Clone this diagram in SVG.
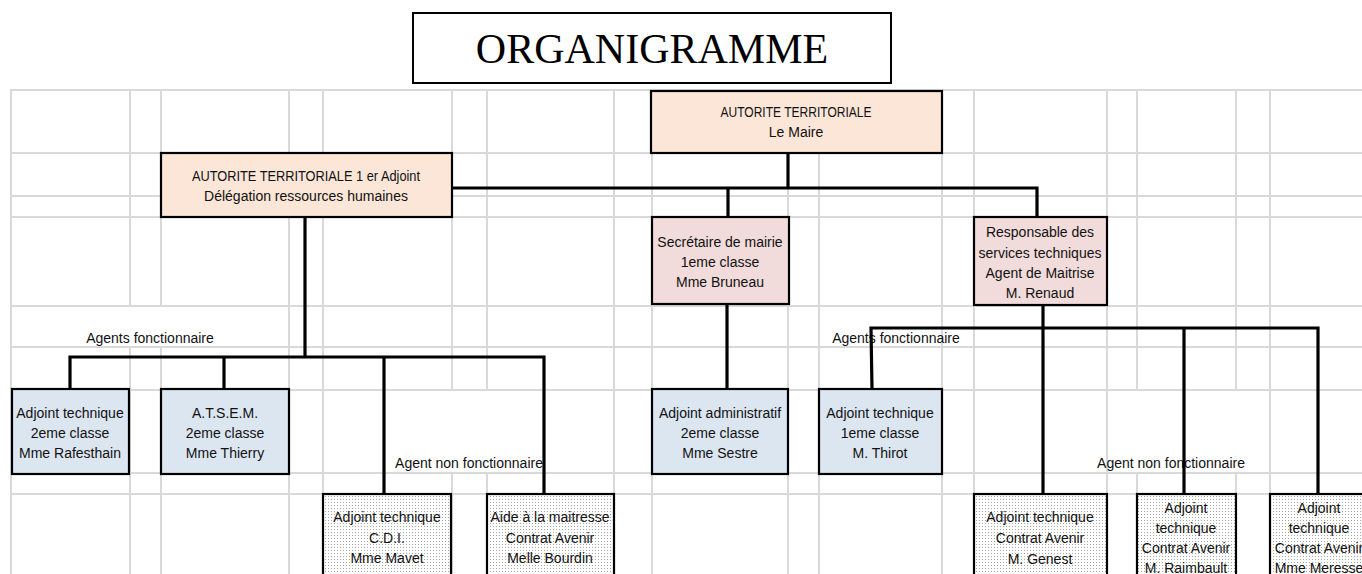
<svg xmlns="http://www.w3.org/2000/svg" width="1362" height="574" viewBox="0 0 1362 574">
<defs>
<pattern id="dots" x="0" y="0" width="3" height="3" patternUnits="userSpaceOnUse">
<rect width="3" height="3" fill="#ffffff"/>
<rect x="1" y="1" width="1" height="1" fill="#a6a6a6"/>
</pattern>
</defs>
<style>
.grid line{stroke:#d9d9d9;stroke-width:2}
.box{stroke:#000;stroke-width:2.2}
.peach{fill:#fce6d8}
.pink{fill:#f2dcdb}
.blue{fill:#dce6f1}
.dot{fill:url(#dots)}
.t{font-family:"Liberation Sans",Arial,sans-serif;font-size:14px;fill:#111;text-anchor:middle}
.conn path{fill:none;stroke:#000;stroke-width:3.2}
.mask{fill:#fff}
</style>
<rect width="1362" height="574" fill="#fff"/>
<g class="grid" id="grid">
<line x1="11" y1="90" x2="1362" y2="90"/>
<line x1="11" y1="153" x2="1362" y2="153"/>
<line x1="11" y1="196" x2="1362" y2="196"/>
<line x1="11" y1="217" x2="1362" y2="217"/>
<line x1="11" y1="306" x2="1362" y2="306"/>
<line x1="11" y1="347" x2="1362" y2="347"/>
<line x1="11" y1="390" x2="1362" y2="390"/>
<line x1="11" y1="473" x2="1362" y2="473"/>
<line x1="11" y1="494" x2="1362" y2="494"/>
<line x1="11" y1="89" x2="11" y2="574"/>
<line x1="130" y1="89" x2="130" y2="574"/>
<line x1="161" y1="89" x2="161" y2="574"/>
<line x1="289" y1="89" x2="289" y2="574"/>
<line x1="323" y1="89" x2="323" y2="574"/>
<line x1="452" y1="89" x2="452" y2="574"/>
<line x1="487" y1="89" x2="487" y2="574"/>
<line x1="614" y1="89" x2="614" y2="574"/>
<line x1="652" y1="89" x2="652" y2="574"/>
<line x1="788" y1="89" x2="788" y2="574"/>
<line x1="819" y1="89" x2="819" y2="574"/>
<line x1="942" y1="89" x2="942" y2="574"/>
<line x1="974" y1="89" x2="974" y2="574"/>
<line x1="1107" y1="89" x2="1107" y2="574"/>
<line x1="1137" y1="89" x2="1137" y2="574"/>
<line x1="1236" y1="89" x2="1236" y2="574"/>
<line x1="1270" y1="89" x2="1270" y2="574"/>
</g>
<g id="labels">
<rect class="mask" x="12" y="307" width="276" height="39"/>
<rect class="mask" x="820" y="307" width="121" height="39"/>
<rect class="mask" x="943" y="307" width="30" height="39"/>
<rect class="mask" x="324" y="391" width="289" height="81"/>
<rect class="mask" x="1108" y="391" width="161" height="81"/>
<text class="t" x="150" y="343">Agents fonctionnaire</text>
<text class="t" x="896" y="343">Agents fonctionnaire</text>
<text class="t" x="469" y="468">Agent non fonctionnaire</text>
<text class="t" x="1171" y="468">Agent non fonctionnaire</text>
</g>
<g id="title">
<rect x="413" y="13" width="478" height="70" fill="#fff" stroke="#000" stroke-width="2"/>
<text x="652" y="63" font-family="'Liberation Serif','Times New Roman',serif" font-size="42" text-anchor="middle" fill="#000">ORGANIGRAMME</text>
</g>
<g class="conn" id="connectors">
<path d="M788 153V188"/>
<path d="M452 188H1037V217"/>
<path d="M728 188V217"/>
<path d="M305 217V357"/>
<path d="M70 389V357H544V494"/>
<path d="M224 357V389"/>
<path d="M384 357V494"/>
<path d="M727 304V389"/>
<path d="M1043 305V328"/>
<path d="M872 389L871 328H1318V494"/>
<path d="M1043 328V494"/>
<path d="M1184 328V494"/>
</g>
<g id="maire">
<rect class="box peach" x="651" y="91" width="291" height="62"/>
<text class="t" x="796" y="117" textLength="151" lengthAdjust="spacingAndGlyphs">AUTORITE  TERRITORIALE</text>
<text class="t" x="796" y="137">Le Maire</text>
</g>
<g id="adjoint1">
<rect class="box peach" x="161" y="153" width="291" height="64"/>
<text class="t" x="306" y="181" textLength="228" lengthAdjust="spacingAndGlyphs">AUTORITE  TERRITORIALE  1 er Adjoint</text>
<text class="t" x="306" y="201">Délégation ressources humaines</text>
</g>
<g id="secretaire">
<rect class="box pink" x="652" y="217" width="137" height="87"/>
<text class="t" x="720" y="247">Secrétaire de mairie</text>
<text class="t" x="720" y="267">1eme classe</text>
<text class="t" x="720" y="287">Mme Bruneau</text>
</g>
<g id="responsable">
<rect class="box pink" x="974" y="217" width="133" height="88"/>
<text class="t" x="1040" y="237">Responsable des</text>
<text class="t" x="1040" y="258">services techniques</text>
<text class="t" x="1040" y="278">Agent de Maitrise</text>
<text class="t" x="1040" y="298">M. Renaud</text>
</g>
<g id="rafesthain">
<rect class="box blue" x="12" y="389" width="117" height="85"/>
<text class="t" x="70" y="418">Adjoint technique</text>
<text class="t" x="70" y="438">2eme classe</text>
<text class="t" x="70" y="458">Mme Rafesthain</text>
</g>
<g id="thierry">
<rect class="box blue" x="161" y="389" width="128" height="85"/>
<text class="t" x="225" y="418">A.T.S.E.M.</text>
<text class="t" x="225" y="438">2eme classe</text>
<text class="t" x="225" y="458">Mme Thierry</text>
</g>
<g id="sestre">
<rect class="box blue" x="652" y="389" width="136" height="85"/>
<text class="t" x="720" y="418">Adjoint administratif</text>
<text class="t" x="720" y="438">2eme classe</text>
<text class="t" x="720" y="458">Mme Sestre</text>
</g>
<g id="thirot">
<rect class="box blue" x="819" y="389" width="123" height="85"/>
<text class="t" x="880" y="418">Adjoint technique</text>
<text class="t" x="880" y="438">1eme classe</text>
<text class="t" x="880" y="458">M. Thirot</text>
</g>
<g id="mavet">
<rect class="box dot" x="323" y="494" width="128" height="90"/>
<text class="t" x="387" y="522">Adjoint technique</text>
<text class="t" x="387" y="543">C.D.I.</text>
<text class="t" x="387" y="563">Mme Mavet</text>
</g>
<g id="bourdin">
<rect class="box dot" x="487" y="494" width="127" height="90"/>
<text class="t" x="550" y="522">Aide à la maitresse</text>
<text class="t" x="550" y="543">Contrat Avenir</text>
<text class="t" x="550" y="563">Melle Bourdin</text>
</g>
<g id="genest">
<rect class="box dot" x="974" y="494" width="133" height="90"/>
<text class="t" x="1040" y="522">Adjoint technique</text>
<text class="t" x="1040" y="543">Contrat Avenir</text>
<text class="t" x="1040" y="564">M. Genest</text>
</g>
<g id="raimbault">
<rect class="box dot" x="1137" y="494" width="99" height="90"/>
<text class="t" x="1186" y="513">Adjoint</text>
<text class="t" x="1186" y="533">technique</text>
<text class="t" x="1186" y="553">Contrat Avenir</text>
<text class="t" x="1186" y="573">M. Raimbault</text>
</g>
<g id="meresse">
<rect class="box dot" x="1270" y="494" width="100" height="90"/>
<text class="t" x="1319" y="513">Adjoint</text>
<text class="t" x="1319" y="533">technique</text>
<text class="t" x="1319" y="553">Contrat Avenir</text>
<text class="t" x="1319" y="573">Mme Meresse</text>
</g>
</svg>
